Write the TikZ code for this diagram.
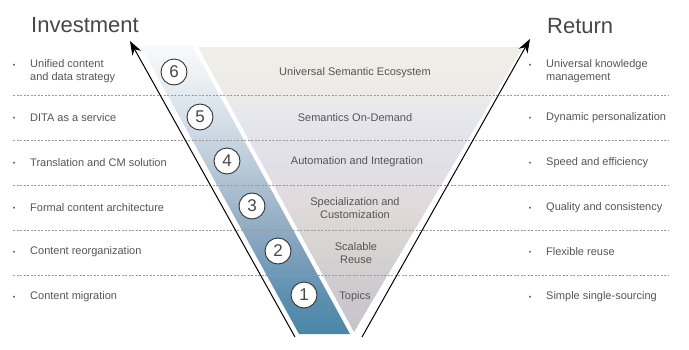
\documentclass[tikz,border=0pt]{standalone}
\usepackage{fontspec}
\setmainfont{Liberation Sans}
\usetikzlibrary{arrows.meta}
\definecolor{txtgray}{HTML}{555555}
\definecolor{titlegray}{HTML}{474747}
\definecolor{dashgray}{HTML}{9A9A9A}
\definecolor{fa}{HTML}{C6C4CB}
\definecolor{fb}{HTML}{CCCACF}
\definecolor{fc}{HTML}{D6D3D1}
\definecolor{fd}{HTML}{E0DADB}
\definecolor{fe}{HTML}{E1DFE8}
\definecolor{ff}{HTML}{E6E6EE}
\definecolor{fg}{HTML}{ECEBE8}
\definecolor{fh}{HTML}{EFEEE8}
\definecolor{ba}{HTML}{4A86A8}
\definecolor{bb}{HTML}{5E90B0}
\definecolor{bc}{HTML}{7FA1BD}
\definecolor{bd}{HTML}{A0B6CA}
\definecolor{be}{HTML}{BCCCDA}
\definecolor{bf}{HTML}{D6E0E9}
\definecolor{bg}{HTML}{EEF2F5}
\definecolor{bh}{HTML}{F8F9FA}
\pgfdeclareverticalshading{funnelshade}{100bp}{%
  color(0bp)=(fa); color(25bp)=(fa);
  color(31.7bp)=(fb); color(39.4bp)=(fc);
  color(47.1bp)=(fd); color(54.9bp)=(fe);
  color(62.5bp)=(ff); color(66.6bp)=(fg);
  color(75bp)=(fh); color(100bp)=(fh)}
\pgfdeclareverticalshading{bandshade}{100bp}{%
  color(0bp)=(ba); color(25bp)=(ba);
  color(31.7bp)=(bb); color(39.4bp)=(bc);
  color(47.1bp)=(bd); color(54.9bp)=(be);
  color(62.5bp)=(bf); color(70.3bp)=(bg);
  color(75bp)=(bh); color(100bp)=(bh)}
\begin{document}
\begin{tikzpicture}[x=1pt,y=-1pt,
  listtext/.style={anchor=west,text=txtgray,font=\fontsize{11}{13.5}\selectfont,align=left,inner sep=0pt},
  bulletdot/.style={text=txtgray,font=\fontsize{7}{8}\selectfont,inner sep=0pt},
  rowlabel/.style={text=txtgray,font=\fontsize{11}{13.5}\selectfont,align=center,inner sep=0pt},
  numcircle/.style={circle,draw=black!80,line width=0.9pt,fill=white,minimum size=26pt,inner sep=0pt,text=titlegray,font=\fontsize{17}{17}\selectfont},
  title/.style={anchor=base west,text=titlegray,font=\fontsize{22}{22}\selectfont,inner sep=0pt},
  rowsep/.style={dashgray,line width=0.5pt,dash pattern=on 2pt off 1.5pt},
  bigarrow/.style={black,line width=1pt,-{Stealth[length=14pt,width=10pt]}}
]
\useasboundingbox (0,0) rectangle (689,349);

% gray funnel
\shade[shading=funnelshade]
  (198,47) -- (523,47) -- (354,332) -- cycle;
% blue band
\shade[shading=bandshade]
  (140,45) -- (192,45) -- (350,334) -- (299,334) -- cycle;

% row separators
\foreach \yy in {95,140,185,230,275}
  \draw[rowsep] (13,\yy) -- (668,\yy);

% arrows
\coordinate (lstart) at (295,337);
\coordinate (ltip) at (130,41);
\coordinate (rstart) at (362,337);
\coordinate (rtip) at (530,39);
\draw[bigarrow] (lstart) -- (ltip);
\draw[bigarrow] (rstart) -- (rtip);

% titles
\node[title] (tinv) at (31,32) {Investment};
\node[title] (tret) at (547,33) {Return};

% row labels
\node[rowlabel] (g6) at (355,73) {Universal Semantic Ecosystem};
\node[rowlabel] (g5) at (355,118) {Semantics On-Demand};
\node[rowlabel] (g4) at (357,162) {Automation and Integration};
\node[rowlabel] (g3) at (355,208) {Specialization and\\Customization};
\node[rowlabel] (g2) at (356,253) {Scalable\\Reuse};
\node[rowlabel] (g1) at (355,297) {Topics};

% circles
\node[numcircle] (c6) at (174,72) {6};
\node[numcircle] (c5) at (200,117) {5};
\node[numcircle] (c4) at (227,161) {4};
\node[numcircle] (c3) at (252,206) {3};
\node[numcircle] (c2) at (278,251) {2};
\node[numcircle] (c1) at (304,295) {1};

% left list
\node[bulletdot] (lb6) at (14,66) {•};
\node[listtext] (l6) at (30,71) {Unified content\\and data strategy};
\node[bulletdot] (lb5) at (14,119) {•};
\node[listtext] (l5) at (30,118) {DITA as a service};
\node[bulletdot] (lb4) at (14,164) {•};
\node[listtext] (l4) at (30,163) {Translation and CM solution};
\node[bulletdot] (lb3) at (14,209) {•};
\node[listtext] (l3) at (30,208) {Formal content architecture};
\node[bulletdot] (lb2) at (14,253) {•};
\node[listtext] (l2) at (30,252) {Content reorganization};
\node[bulletdot] (lb1) at (14,298) {•};
\node[listtext] (l1) at (30,297) {Content migration};

% right list
\node[bulletdot] (rb6) at (530,66) {•};
\node[listtext] (r6) at (546,71) {Universal knowledge\\management};
\node[bulletdot] (rb5) at (530,119) {•};
\node[listtext] (r5) at (546,118) {Dynamic personalization};
\node[bulletdot] (rb4) at (530,164) {•};
\node[listtext] (r4) at (546,163) {Speed and efficiency};
\node[bulletdot] (rb3) at (530,209) {•};
\node[listtext] (r3) at (546,208) {Quality and consistency};
\node[bulletdot] (rb2) at (530,253) {•};
\node[listtext] (r2) at (546,252) {Flexible reuse};
\node[bulletdot] (rb1) at (530,298) {•};
\node[listtext] (r1) at (546,297) {Simple single-sourcing};
\end{tikzpicture}
\end{document}
